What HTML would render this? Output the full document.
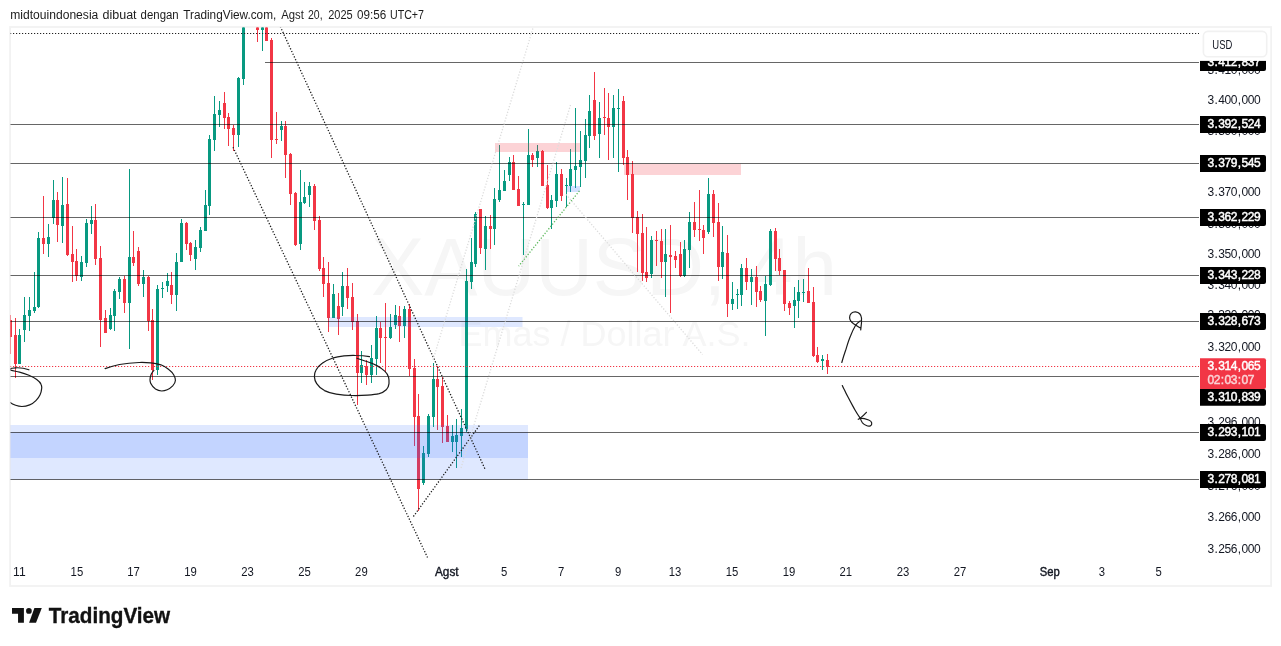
<!DOCTYPE html>
<html lang="id"><head><meta charset="utf-8"><title>XAUUSD 4h - TradingView</title>
<style>
html,body{margin:0;padding:0;background:#fff;}
body{width:1281px;height:646px;overflow:hidden;position:relative;}
svg{position:absolute;left:0;top:0;display:block;}
text{font-family:"Liberation Sans", sans-serif;}
.ax{font-size:12px;fill:#131722;}
.pl{font-size:12px;fill:#fff;stroke:#fff;stroke-width:0.45px;}
.tm{font-size:12px;fill:#131722;}
.tmb{font-size:12px;fill:#131722;stroke:#131722;stroke-width:0.4px;}
</style></head><body>
<svg width="1281" height="646" viewBox="0 0 1281 646">
<defs><clipPath id="pane"><rect x="10.5" y="27.5" width="1189" height="558"/></clipPath></defs>
<rect x="0" y="0" width="1281" height="646" fill="#fff"/>
<text y="19" style="font-size:12px;fill:#1c1c1c;"><tspan x="10.3" textLength="88.0" lengthAdjust="spacingAndGlyphs">midtouindonesia</tspan> <tspan x="102.5" textLength="34.1" lengthAdjust="spacingAndGlyphs">dibuat</tspan> <tspan x="140.6" textLength="38.1" lengthAdjust="spacingAndGlyphs">dengan</tspan> <tspan x="183.2" textLength="93.1" lengthAdjust="spacingAndGlyphs">TradingView.com,</tspan> <tspan x="281.2" textLength="22.6" lengthAdjust="spacingAndGlyphs">Agst</tspan> <tspan x="308.0" textLength="14.6" lengthAdjust="spacingAndGlyphs">20,</tspan> <tspan x="328.2" textLength="24.5" lengthAdjust="spacingAndGlyphs">2025</tspan> <tspan x="357.0" textLength="29.2" lengthAdjust="spacingAndGlyphs">09:56</tspan> <tspan x="390.0" textLength="34.0" lengthAdjust="spacingAndGlyphs">UTC+7</tspan></text>
<rect x="10.1" y="27" width="1261" height="559" fill="none" stroke="#f2f2f2" stroke-width="1.8"/>
<g fill="#f6f6f6">
<text x="371" y="294.5" style="font-size:82px;" textLength="466" lengthAdjust="spacingAndGlyphs">XAUUSD, 4h</text>
<text x="458.5" y="345.8" style="font-size:34.5px;" textLength="292" lengthAdjust="spacingAndGlyphs">Emas / Dollar A.S.</text>
</g>
<g clip-path="url(#pane)" shape-rendering="crispEdges">
<rect x="10" y="315" width="1" height="39" fill="#f23645"/>
<rect x="9" y="320" width="3" height="17" fill="#f23645"/>
<rect x="15" y="318" width="1" height="60" fill="#f23645"/>
<rect x="14" y="335" width="3" height="29" fill="#f23645"/>
<rect x="19" y="329" width="1" height="35" fill="#089981"/>
<rect x="18" y="335" width="3" height="29" fill="#089981"/>
<rect x="24" y="297" width="1" height="45" fill="#089981"/>
<rect x="23" y="315" width="3" height="15" fill="#089981"/>
<rect x="29" y="297" width="1" height="34" fill="#089981"/>
<rect x="28" y="310" width="3" height="6" fill="#089981"/>
<rect x="34" y="272" width="1" height="41" fill="#089981"/>
<rect x="33" y="307" width="3" height="4" fill="#089981"/>
<rect x="38" y="232" width="1" height="76" fill="#089981"/>
<rect x="37" y="238" width="3" height="69" fill="#089981"/>
<rect x="43" y="196" width="1" height="58" fill="#f23645"/>
<rect x="42" y="238" width="3" height="6" fill="#f23645"/>
<rect x="48" y="224" width="1" height="33" fill="#089981"/>
<rect x="47" y="237" width="3" height="7" fill="#089981"/>
<rect x="53" y="180" width="1" height="44" fill="#089981"/>
<rect x="52" y="200" width="3" height="18" fill="#089981"/>
<rect x="57" y="192" width="1" height="50" fill="#f23645"/>
<rect x="56" y="200" width="3" height="25" fill="#f23645"/>
<rect x="62" y="177" width="1" height="66" fill="#089981"/>
<rect x="61" y="205" width="3" height="21" fill="#089981"/>
<rect x="67" y="178" width="1" height="78" fill="#f23645"/>
<rect x="66" y="204" width="3" height="51" fill="#f23645"/>
<rect x="72" y="226" width="1" height="56" fill="#f23645"/>
<rect x="71" y="254" width="3" height="8" fill="#f23645"/>
<rect x="76" y="249" width="1" height="32" fill="#f23645"/>
<rect x="75" y="261" width="3" height="15" fill="#f23645"/>
<rect x="81" y="256" width="1" height="25" fill="#089981"/>
<rect x="80" y="262" width="3" height="15" fill="#089981"/>
<rect x="86" y="219" width="1" height="48" fill="#089981"/>
<rect x="85" y="223" width="3" height="40" fill="#089981"/>
<rect x="91" y="206" width="1" height="28" fill="#089981"/>
<rect x="90" y="220" width="3" height="4" fill="#089981"/>
<rect x="95" y="204" width="1" height="61" fill="#f23645"/>
<rect x="94" y="220" width="3" height="39" fill="#f23645"/>
<rect x="100" y="246" width="1" height="101" fill="#f23645"/>
<rect x="99" y="258" width="3" height="62" fill="#f23645"/>
<rect x="105" y="310" width="1" height="23" fill="#f23645"/>
<rect x="104" y="318" width="3" height="15" fill="#f23645"/>
<rect x="110" y="308" width="1" height="22" fill="#089981"/>
<rect x="109" y="315" width="3" height="14" fill="#089981"/>
<rect x="114" y="289" width="1" height="42" fill="#089981"/>
<rect x="113" y="291" width="3" height="25" fill="#089981"/>
<rect x="119" y="277" width="1" height="22" fill="#089981"/>
<rect x="118" y="279" width="3" height="13" fill="#089981"/>
<rect x="124" y="276" width="1" height="37" fill="#f23645"/>
<rect x="123" y="279" width="3" height="24" fill="#f23645"/>
<rect x="129" y="169" width="1" height="180" fill="#089981"/>
<rect x="128" y="257" width="3" height="46" fill="#089981"/>
<rect x="133" y="231" width="1" height="35" fill="#f23645"/>
<rect x="132" y="257" width="3" height="6" fill="#f23645"/>
<rect x="138" y="247" width="1" height="39" fill="#f23645"/>
<rect x="137" y="251" width="3" height="33" fill="#f23645"/>
<rect x="143" y="270" width="1" height="27" fill="#089981"/>
<rect x="142" y="277" width="3" height="7" fill="#089981"/>
<rect x="148" y="276" width="1" height="55" fill="#f23645"/>
<rect x="147" y="277" width="3" height="44" fill="#f23645"/>
<rect x="152" y="309" width="1" height="71" fill="#f23645"/>
<rect x="151" y="320" width="3" height="50" fill="#f23645"/>
<rect x="157" y="285" width="1" height="90" fill="#089981"/>
<rect x="156" y="289" width="3" height="81" fill="#089981"/>
<rect x="162" y="282" width="1" height="16" fill="#089981"/>
<rect x="161" y="288" width="3" height="1" fill="#089981"/>
<rect x="167" y="273" width="1" height="19" fill="#089981"/>
<rect x="166" y="281" width="3" height="5" fill="#089981"/>
<rect x="171" y="272" width="1" height="32" fill="#f23645"/>
<rect x="170" y="285" width="3" height="10" fill="#f23645"/>
<rect x="176" y="253" width="1" height="58" fill="#089981"/>
<rect x="175" y="262" width="3" height="33" fill="#089981"/>
<rect x="181" y="219" width="1" height="43" fill="#089981"/>
<rect x="180" y="223" width="3" height="39" fill="#089981"/>
<rect x="186" y="222" width="1" height="28" fill="#f23645"/>
<rect x="185" y="223" width="3" height="21" fill="#f23645"/>
<rect x="190" y="242" width="1" height="19" fill="#f23645"/>
<rect x="189" y="243" width="3" height="12" fill="#f23645"/>
<rect x="195" y="240" width="1" height="30" fill="#089981"/>
<rect x="194" y="247" width="3" height="12" fill="#089981"/>
<rect x="200" y="227" width="1" height="25" fill="#089981"/>
<rect x="199" y="230" width="3" height="18" fill="#089981"/>
<rect x="205" y="190" width="1" height="41" fill="#089981"/>
<rect x="204" y="205" width="3" height="26" fill="#089981"/>
<rect x="209" y="135" width="1" height="80" fill="#089981"/>
<rect x="208" y="139" width="3" height="67" fill="#089981"/>
<rect x="214" y="96" width="1" height="55" fill="#089981"/>
<rect x="213" y="114" width="3" height="26" fill="#089981"/>
<rect x="219" y="101" width="1" height="26" fill="#089981"/>
<rect x="218" y="110" width="3" height="5" fill="#089981"/>
<rect x="224" y="92" width="1" height="37" fill="#f23645"/>
<rect x="223" y="103" width="3" height="15" fill="#f23645"/>
<rect x="228" y="113" width="1" height="33" fill="#f23645"/>
<rect x="227" y="117" width="3" height="12" fill="#f23645"/>
<rect x="233" y="125" width="1" height="26" fill="#f23645"/>
<rect x="232" y="128" width="3" height="7" fill="#f23645"/>
<rect x="238" y="77" width="1" height="70" fill="#089981"/>
<rect x="237" y="78" width="3" height="57" fill="#089981"/>
<rect x="243" y="10" width="1" height="75" fill="#089981"/>
<rect x="242" y="10" width="3" height="69" fill="#089981"/>
<rect x="247" y="0" width="1" height="10" fill="#089981"/>
<rect x="246" y="5" width="3" height="5" fill="#089981"/>
<rect x="252" y="0" width="1" height="8" fill="#089981"/>
<rect x="251" y="2" width="3" height="6" fill="#089981"/>
<rect x="257" y="10" width="1" height="32" fill="#f23645"/>
<rect x="256" y="10" width="3" height="20" fill="#f23645"/>
<rect x="262" y="10" width="1" height="41" fill="#089981"/>
<rect x="261" y="10" width="3" height="20" fill="#089981"/>
<rect x="266" y="10" width="1" height="31" fill="#f23645"/>
<rect x="265" y="10" width="3" height="31" fill="#f23645"/>
<rect x="271" y="38" width="1" height="120" fill="#f23645"/>
<rect x="270" y="40" width="3" height="100" fill="#f23645"/>
<rect x="276" y="112" width="1" height="32" fill="#f23645"/>
<rect x="275" y="139" width="3" height="1" fill="#f23645"/>
<rect x="281" y="121" width="1" height="20" fill="#089981"/>
<rect x="280" y="126" width="3" height="4" fill="#089981"/>
<rect x="285" y="121" width="1" height="57" fill="#f23645"/>
<rect x="284" y="126" width="3" height="29" fill="#f23645"/>
<rect x="290" y="153" width="1" height="52" fill="#f23645"/>
<rect x="289" y="154" width="3" height="40" fill="#f23645"/>
<rect x="295" y="192" width="1" height="54" fill="#f23645"/>
<rect x="294" y="193" width="3" height="52" fill="#f23645"/>
<rect x="300" y="170" width="1" height="80" fill="#089981"/>
<rect x="299" y="202" width="3" height="42" fill="#089981"/>
<rect x="304" y="182" width="1" height="22" fill="#089981"/>
<rect x="303" y="197" width="3" height="6" fill="#089981"/>
<rect x="309" y="182" width="1" height="25" fill="#089981"/>
<rect x="308" y="186" width="3" height="9" fill="#089981"/>
<rect x="314" y="184" width="1" height="46" fill="#f23645"/>
<rect x="313" y="186" width="3" height="35" fill="#f23645"/>
<rect x="319" y="216" width="1" height="55" fill="#f23645"/>
<rect x="318" y="220" width="3" height="49" fill="#f23645"/>
<rect x="323" y="257" width="1" height="40" fill="#f23645"/>
<rect x="322" y="268" width="3" height="16" fill="#f23645"/>
<rect x="328" y="262" width="1" height="70" fill="#f23645"/>
<rect x="327" y="283" width="3" height="35" fill="#f23645"/>
<rect x="333" y="284" width="1" height="34" fill="#089981"/>
<rect x="332" y="294" width="3" height="24" fill="#089981"/>
<rect x="338" y="293" width="1" height="42" fill="#f23645"/>
<rect x="337" y="306" width="3" height="13" fill="#f23645"/>
<rect x="342" y="272" width="1" height="44" fill="#089981"/>
<rect x="341" y="286" width="3" height="21" fill="#089981"/>
<rect x="347" y="268" width="1" height="41" fill="#f23645"/>
<rect x="346" y="286" width="3" height="12" fill="#f23645"/>
<rect x="352" y="283" width="1" height="47" fill="#f23645"/>
<rect x="351" y="297" width="3" height="25" fill="#f23645"/>
<rect x="357" y="314" width="1" height="91" fill="#f23645"/>
<rect x="356" y="321" width="3" height="52" fill="#f23645"/>
<rect x="361" y="351" width="1" height="32" fill="#089981"/>
<rect x="360" y="365" width="3" height="8" fill="#089981"/>
<rect x="366" y="360" width="1" height="25" fill="#f23645"/>
<rect x="365" y="366" width="3" height="9" fill="#f23645"/>
<rect x="371" y="345" width="1" height="38" fill="#089981"/>
<rect x="370" y="358" width="3" height="17" fill="#089981"/>
<rect x="376" y="316" width="1" height="59" fill="#089981"/>
<rect x="375" y="328" width="3" height="31" fill="#089981"/>
<rect x="380" y="322" width="1" height="41" fill="#f23645"/>
<rect x="379" y="328" width="3" height="10" fill="#f23645"/>
<rect x="385" y="303" width="1" height="69" fill="#f23645"/>
<rect x="384" y="337" width="3" height="1" fill="#f23645"/>
<rect x="390" y="314" width="1" height="25" fill="#089981"/>
<rect x="389" y="327" width="3" height="11" fill="#089981"/>
<rect x="395" y="305" width="1" height="24" fill="#089981"/>
<rect x="394" y="315" width="3" height="10" fill="#089981"/>
<rect x="399" y="306" width="1" height="36" fill="#f23645"/>
<rect x="398" y="316" width="3" height="10" fill="#f23645"/>
<rect x="404" y="306" width="1" height="32" fill="#089981"/>
<rect x="403" y="309" width="3" height="17" fill="#089981"/>
<rect x="409" y="304" width="1" height="72" fill="#f23645"/>
<rect x="408" y="309" width="3" height="60" fill="#f23645"/>
<rect x="414" y="359" width="1" height="87" fill="#f23645"/>
<rect x="413" y="368" width="3" height="49" fill="#f23645"/>
<rect x="418" y="394" width="1" height="117" fill="#f23645"/>
<rect x="417" y="416" width="3" height="73" fill="#f23645"/>
<rect x="423" y="446" width="1" height="39" fill="#089981"/>
<rect x="422" y="453" width="3" height="30" fill="#089981"/>
<rect x="428" y="414" width="1" height="43" fill="#089981"/>
<rect x="427" y="416" width="3" height="38" fill="#089981"/>
<rect x="433" y="363" width="1" height="64" fill="#089981"/>
<rect x="432" y="379" width="3" height="38" fill="#089981"/>
<rect x="437" y="366" width="1" height="64" fill="#f23645"/>
<rect x="436" y="379" width="3" height="8" fill="#f23645"/>
<rect x="442" y="377" width="1" height="66" fill="#f23645"/>
<rect x="441" y="386" width="3" height="41" fill="#f23645"/>
<rect x="447" y="415" width="1" height="27" fill="#f23645"/>
<rect x="446" y="426" width="3" height="16" fill="#f23645"/>
<rect x="452" y="425" width="1" height="27" fill="#089981"/>
<rect x="451" y="436" width="3" height="6" fill="#089981"/>
<rect x="456" y="419" width="1" height="49" fill="#089981"/>
<rect x="455" y="435" width="3" height="7" fill="#089981"/>
<rect x="461" y="409" width="1" height="48" fill="#089981"/>
<rect x="460" y="428" width="3" height="8" fill="#089981"/>
<rect x="466" y="269" width="1" height="163" fill="#089981"/>
<rect x="465" y="281" width="3" height="148" fill="#089981"/>
<rect x="471" y="238" width="1" height="51" fill="#089981"/>
<rect x="470" y="262" width="3" height="20" fill="#089981"/>
<rect x="475" y="212" width="1" height="55" fill="#089981"/>
<rect x="474" y="214" width="3" height="50" fill="#089981"/>
<rect x="480" y="209" width="1" height="45" fill="#f23645"/>
<rect x="479" y="209" width="3" height="39" fill="#f23645"/>
<rect x="485" y="216" width="1" height="54" fill="#089981"/>
<rect x="484" y="226" width="3" height="23" fill="#089981"/>
<rect x="490" y="215" width="1" height="34" fill="#f23645"/>
<rect x="489" y="226" width="3" height="3" fill="#f23645"/>
<rect x="494" y="188" width="1" height="57" fill="#089981"/>
<rect x="493" y="199" width="3" height="30" fill="#089981"/>
<rect x="499" y="145" width="1" height="57" fill="#089981"/>
<rect x="498" y="190" width="3" height="10" fill="#089981"/>
<rect x="504" y="170" width="1" height="21" fill="#089981"/>
<rect x="503" y="181" width="3" height="10" fill="#089981"/>
<rect x="509" y="157" width="1" height="24" fill="#089981"/>
<rect x="508" y="162" width="3" height="13" fill="#089981"/>
<rect x="513" y="155" width="1" height="35" fill="#f23645"/>
<rect x="512" y="162" width="3" height="28" fill="#f23645"/>
<rect x="518" y="176" width="1" height="30" fill="#f23645"/>
<rect x="517" y="189" width="3" height="17" fill="#f23645"/>
<rect x="523" y="202" width="1" height="53" fill="#089981"/>
<rect x="522" y="204" width="3" height="1" fill="#089981"/>
<rect x="528" y="129" width="1" height="76" fill="#089981"/>
<rect x="527" y="155" width="3" height="50" fill="#089981"/>
<rect x="532" y="153" width="1" height="14" fill="#f23645"/>
<rect x="531" y="155" width="3" height="5" fill="#f23645"/>
<rect x="537" y="145" width="1" height="22" fill="#089981"/>
<rect x="536" y="151" width="3" height="7" fill="#089981"/>
<rect x="542" y="150" width="1" height="36" fill="#f23645"/>
<rect x="541" y="151" width="3" height="35" fill="#f23645"/>
<rect x="547" y="165" width="1" height="44" fill="#f23645"/>
<rect x="546" y="185" width="3" height="23" fill="#f23645"/>
<rect x="551" y="195" width="1" height="34" fill="#089981"/>
<rect x="550" y="200" width="3" height="8" fill="#089981"/>
<rect x="556" y="162" width="1" height="45" fill="#089981"/>
<rect x="555" y="174" width="3" height="27" fill="#089981"/>
<rect x="561" y="169" width="1" height="32" fill="#f23645"/>
<rect x="560" y="174" width="3" height="22" fill="#f23645"/>
<rect x="566" y="178" width="1" height="29" fill="#089981"/>
<rect x="565" y="185" width="3" height="1" fill="#089981"/>
<rect x="570" y="149" width="1" height="43" fill="#089981"/>
<rect x="569" y="169" width="3" height="17" fill="#089981"/>
<rect x="575" y="108" width="1" height="80" fill="#089981"/>
<rect x="574" y="166" width="3" height="4" fill="#089981"/>
<rect x="580" y="131" width="1" height="56" fill="#089981"/>
<rect x="579" y="160" width="3" height="7" fill="#089981"/>
<rect x="585" y="119" width="1" height="59" fill="#089981"/>
<rect x="584" y="135" width="3" height="26" fill="#089981"/>
<rect x="589" y="95" width="1" height="53" fill="#089981"/>
<rect x="588" y="111" width="3" height="25" fill="#089981"/>
<rect x="594" y="72" width="1" height="68" fill="#f23645"/>
<rect x="593" y="100" width="3" height="36" fill="#f23645"/>
<rect x="599" y="102" width="1" height="56" fill="#089981"/>
<rect x="598" y="118" width="3" height="16" fill="#089981"/>
<rect x="604" y="88" width="1" height="47" fill="#f23645"/>
<rect x="603" y="117" width="3" height="1" fill="#f23645"/>
<rect x="608" y="93" width="1" height="67" fill="#f23645"/>
<rect x="607" y="118" width="3" height="9" fill="#f23645"/>
<rect x="613" y="95" width="1" height="63" fill="#089981"/>
<rect x="612" y="108" width="3" height="19" fill="#089981"/>
<rect x="618" y="89" width="1" height="83" fill="#089981"/>
<rect x="617" y="108" width="3" height="1" fill="#089981"/>
<rect x="623" y="96" width="1" height="69" fill="#f23645"/>
<rect x="622" y="101" width="3" height="57" fill="#f23645"/>
<rect x="627" y="150" width="1" height="50" fill="#f23645"/>
<rect x="626" y="157" width="3" height="18" fill="#f23645"/>
<rect x="632" y="161" width="1" height="72" fill="#f23645"/>
<rect x="631" y="174" width="3" height="44" fill="#f23645"/>
<rect x="637" y="211" width="1" height="61" fill="#f23645"/>
<rect x="636" y="217" width="3" height="17" fill="#f23645"/>
<rect x="642" y="214" width="1" height="67" fill="#f23645"/>
<rect x="641" y="233" width="3" height="40" fill="#f23645"/>
<rect x="646" y="227" width="1" height="55" fill="#f23645"/>
<rect x="645" y="272" width="3" height="6" fill="#f23645"/>
<rect x="651" y="236" width="1" height="42" fill="#089981"/>
<rect x="650" y="240" width="3" height="34" fill="#089981"/>
<rect x="656" y="231" width="1" height="35" fill="#f23645"/>
<rect x="655" y="240" width="3" height="1" fill="#f23645"/>
<rect x="661" y="229" width="1" height="49" fill="#f23645"/>
<rect x="660" y="241" width="3" height="21" fill="#f23645"/>
<rect x="665" y="229" width="1" height="68" fill="#089981"/>
<rect x="664" y="254" width="3" height="8" fill="#089981"/>
<rect x="670" y="225" width="1" height="88" fill="#f23645"/>
<rect x="669" y="255" width="3" height="2" fill="#f23645"/>
<rect x="675" y="251" width="1" height="17" fill="#f23645"/>
<rect x="674" y="256" width="3" height="4" fill="#f23645"/>
<rect x="680" y="242" width="1" height="35" fill="#f23645"/>
<rect x="679" y="254" width="3" height="22" fill="#f23645"/>
<rect x="684" y="240" width="1" height="37" fill="#089981"/>
<rect x="683" y="249" width="3" height="27" fill="#089981"/>
<rect x="689" y="212" width="1" height="56" fill="#089981"/>
<rect x="688" y="222" width="3" height="28" fill="#089981"/>
<rect x="694" y="202" width="1" height="35" fill="#f23645"/>
<rect x="693" y="222" width="3" height="8" fill="#f23645"/>
<rect x="699" y="190" width="1" height="51" fill="#f23645"/>
<rect x="698" y="229" width="3" height="1" fill="#f23645"/>
<rect x="703" y="225" width="1" height="29" fill="#f23645"/>
<rect x="702" y="230" width="3" height="8" fill="#f23645"/>
<rect x="708" y="178" width="1" height="56" fill="#089981"/>
<rect x="707" y="194" width="3" height="38" fill="#089981"/>
<rect x="713" y="190" width="1" height="47" fill="#f23645"/>
<rect x="712" y="194" width="3" height="29" fill="#f23645"/>
<rect x="718" y="203" width="1" height="78" fill="#f23645"/>
<rect x="717" y="222" width="3" height="45" fill="#f23645"/>
<rect x="722" y="226" width="1" height="53" fill="#089981"/>
<rect x="721" y="252" width="3" height="15" fill="#089981"/>
<rect x="727" y="235" width="1" height="82" fill="#f23645"/>
<rect x="726" y="253" width="3" height="51" fill="#f23645"/>
<rect x="732" y="282" width="1" height="28" fill="#089981"/>
<rect x="731" y="299" width="3" height="5" fill="#089981"/>
<rect x="737" y="289" width="1" height="20" fill="#089981"/>
<rect x="736" y="294" width="3" height="1" fill="#089981"/>
<rect x="741" y="264" width="1" height="42" fill="#089981"/>
<rect x="740" y="268" width="3" height="27" fill="#089981"/>
<rect x="746" y="258" width="1" height="32" fill="#f23645"/>
<rect x="745" y="268" width="3" height="14" fill="#f23645"/>
<rect x="751" y="269" width="1" height="36" fill="#089981"/>
<rect x="750" y="277" width="3" height="5" fill="#089981"/>
<rect x="756" y="266" width="1" height="41" fill="#f23645"/>
<rect x="755" y="277" width="3" height="15" fill="#f23645"/>
<rect x="760" y="286" width="1" height="16" fill="#f23645"/>
<rect x="759" y="291" width="3" height="9" fill="#f23645"/>
<rect x="765" y="276" width="1" height="60" fill="#089981"/>
<rect x="764" y="284" width="3" height="17" fill="#089981"/>
<rect x="770" y="229" width="1" height="57" fill="#089981"/>
<rect x="769" y="231" width="3" height="54" fill="#089981"/>
<rect x="775" y="228" width="1" height="43" fill="#f23645"/>
<rect x="774" y="231" width="3" height="28" fill="#f23645"/>
<rect x="779" y="249" width="1" height="26" fill="#f23645"/>
<rect x="778" y="258" width="3" height="13" fill="#f23645"/>
<rect x="784" y="270" width="1" height="41" fill="#f23645"/>
<rect x="783" y="270" width="3" height="34" fill="#f23645"/>
<rect x="789" y="301" width="1" height="14" fill="#f23645"/>
<rect x="788" y="303" width="3" height="5" fill="#f23645"/>
<rect x="794" y="287" width="1" height="41" fill="#089981"/>
<rect x="793" y="300" width="3" height="6" fill="#089981"/>
<rect x="798" y="280" width="1" height="38" fill="#089981"/>
<rect x="797" y="292" width="3" height="9" fill="#089981"/>
<rect x="803" y="279" width="1" height="23" fill="#089981"/>
<rect x="802" y="292" width="3" height="1" fill="#089981"/>
<rect x="808" y="268" width="1" height="35" fill="#f23645"/>
<rect x="807" y="291" width="3" height="12" fill="#f23645"/>
<rect x="813" y="287" width="1" height="70" fill="#f23645"/>
<rect x="812" y="302" width="3" height="54" fill="#f23645"/>
<rect x="817" y="347" width="1" height="16" fill="#f23645"/>
<rect x="816" y="355" width="3" height="7" fill="#f23645"/>
<rect x="822" y="355" width="1" height="15" fill="#089981"/>
<rect x="821" y="359" width="3" height="2" fill="#089981"/>
<rect x="827" y="354" width="1" height="20" fill="#f23645"/>
<rect x="826" y="360" width="3" height="7" fill="#f23645"/>
</g>
<g clip-path="url(#pane)">
<rect x="10" y="425" width="518" height="54.5" fill="rgba(41,98,255,0.15)"/>
<rect x="10" y="432.5" width="518" height="25.5" fill="rgba(41,98,255,0.15)"/>
<rect x="328.5" y="317" width="194" height="10" fill="rgba(41,98,255,0.15)"/>
<rect x="567" y="186" width="13" height="6" fill="rgba(41,98,255,0.2)"/>
<rect x="495" y="143" width="85" height="9" fill="rgba(242,54,69,0.22)"/>
<rect x="624" y="164" width="117" height="11" fill="rgba(242,54,69,0.22)"/>
<rect x="265" y="62" width="934" height="1" fill="rgba(0,0,0,0.6)" shape-rendering="crispEdges"/>
<rect x="10" y="124" width="1189" height="1" fill="rgba(0,0,0,0.6)" shape-rendering="crispEdges"/>
<rect x="10" y="163" width="1189" height="1" fill="rgba(0,0,0,0.6)" shape-rendering="crispEdges"/>
<rect x="10" y="217" width="1189" height="1" fill="rgba(0,0,0,0.6)" shape-rendering="crispEdges"/>
<rect x="10" y="275" width="1189" height="1" fill="rgba(0,0,0,0.6)" shape-rendering="crispEdges"/>
<rect x="10" y="321" width="1189" height="1" fill="rgba(0,0,0,0.6)" shape-rendering="crispEdges"/>
<rect x="10" y="376" width="1189" height="1" fill="rgba(0,0,0,0.6)" shape-rendering="crispEdges"/>
<rect x="10" y="432" width="1189" height="1" fill="rgba(0,0,0,0.6)" shape-rendering="crispEdges"/>
<rect x="10" y="479" width="1189" height="1" fill="rgba(0,0,0,0.6)" shape-rendering="crispEdges"/>
<line x1="10" y1="33.5" x2="1199" y2="33.5" stroke="#222" stroke-width="1.2" stroke-dasharray="1.2 1.8"/>
<line x1="233.0" y1="147.2" x2="427.5" y2="557.5" stroke="#1a1a1a" stroke-width="1.3" stroke-dasharray="1.25 1.75"/>
<line x1="277.7" y1="21.0" x2="484.9" y2="468.8" stroke="#1a1a1a" stroke-width="1.3" stroke-dasharray="1.25 1.75"/>
<line x1="413.4" y1="516.5" x2="479.5" y2="425.4" stroke="#1a1a1a" stroke-width="1.3" stroke-dasharray="1.25 1.75"/>
<line x1="579.4" y1="190.9" x2="518.6" y2="266.2" stroke="#5cb85c" stroke-width="1.3" stroke-dasharray="1.25 1.75"/>
<line x1="433.0" y1="360.0" x2="533.0" y2="28.0" stroke="#dcdcdc" stroke-width="1.3" stroke-dasharray="1.25 1.75"/>
<line x1="461.0" y1="468.0" x2="570.5" y2="105.0" stroke="#dcdcdc" stroke-width="1.3" stroke-dasharray="1.25 1.75"/>
<line x1="566.0" y1="194.4" x2="702.5" y2="354.5" stroke="#dcdcdc" stroke-width="1.3" stroke-dasharray="1.25 1.75"/>
<line x1="10" y1="366.5" x2="1199" y2="366.5" stroke="#f23645" stroke-width="1.2" stroke-dasharray="1.2 1.8"/>
<g fill="none" stroke="#1a1a1a" stroke-width="1.2" stroke-linecap="round" stroke-linejoin="round">
<path d="M28.9 369.8 C25 368.4 19 367.6 15.6 367.8 C13 368 11 368.3 10.5 368.6 L10.5 370.2 C14 371 17 371.5 19.5 372.1 C23 373 26 374 28.9 375.2 C32 376.5 35 378.2 36.7 379.5 C39 381.2 40.5 382.8 41 384.2 C41.8 386 41.9 387.5 41.6 388.9 C41.4 391 41 393 40.2 394.4 C39 397 37.5 399 35.9 400.6 C34 402.5 32 404 29.7 404.9 C27 406 24.5 406.5 21.9 406.5 C19.5 406.5 17.5 406 15.6 405.3 C13.5 404.5 11.5 403.5 10.5 402.6"/>
<path d="M105.1 368.6 C110 367 114.5 365.7 119.5 364.5 C126 363.3 132.5 362.7 139.1 362.5 C143 362.4 147 362.5 150.8 362.9 C154.5 363.3 158 364 160.9 364.8 C164 366 166.5 367.6 168.8 369.5 C171 371.2 172.7 373 173.8 375 C174.8 376.8 175.5 378.7 175.4 380.5 C175.3 382.5 174.2 384.3 172.7 385.9 C171 387.6 169.2 389 167.2 389.8 C165.4 390.6 163.5 391 161.7 391 C159.5 390.9 157.3 390.2 155.5 389 C153.5 387.6 151.8 385.7 150.8 383.6 C150.3 382.3 150 381 150 379.7 C150 377.8 150.5 375.9 151.2 374.2 C151.9 372.7 152.8 371.4 153.9 370.3"/>
<path d="M369.5 356.6 C365 355.8 360.5 355.5 355.8 355.5 C351.8 355.4 348 355.5 344 355.9 C340 356.4 336 357.1 332.3 358.2 C328.6 359.4 325 361 322.2 363.3 C319.4 365.3 317.2 367.6 315.9 370.3 C314.8 372.3 314.3 374.5 314.4 376.6 C314.5 379 315.3 381.5 316.7 383.6 C318.5 386.4 321.3 388.8 324.5 390.6 C328 392.4 332 393.4 336.2 394.1 C341.3 394.9 346.6 395.4 351.9 395.5 C357.1 395.6 362.3 395.5 367.5 395.2 C371.5 394.9 375.4 394.6 379.2 393.7 C381.8 393 384.3 391.6 386.2 389.8 C387.8 388.1 388.8 385.9 389 383.6 C389.2 381.5 389.1 379.4 388.6 377.3 C388 375 386.7 372.9 384.7 371.1 C382.4 369 379.8 367.1 376.9 365.6 C373.9 364.1 370.7 362.8 367.5 361.7 C364 360.5 360.5 359.3 357 358.2"/>
<path d="M841.8 362.5 C843 358 844.3 354 845.7 350 C847 346 848.5 340.5 850.5 336 C852 332 853.8 328.3 855.6 325.2 C857 323.4 858.5 322 860.2 320.9"/>
<path d="M860.7 329.8 C861.3 326 861.8 322 861.5 318 C861.2 315 859.5 312.3 855.5 311.8 C852 311.6 849.6 314.2 849.6 317.5 C849.6 320 851.5 322.2 853.6 323.7 C856 325.3 858.5 327 860.8 328.3"/>
<path d="M842.3 385.5 C843 387.2 843.7 388.6 844.5 390 C845.7 392.8 847 395.3 848.4 397.8 C850.4 401.7 852.6 405.6 854.7 409.5 C856.4 412.5 858.3 415.5 860.2 418.1"/>
<path d="M866.4 412.3 C864.5 414.4 862.4 416.4 860.2 418.1"/>
<path d="M858.2 419.3 C859 418.8 859.7 418.4 860.2 418.1 C863.2 418.3 866 419 868.7 420 C870.3 420.7 871.5 421.7 871.7 422.8 C872 424.2 871.5 425.2 870.3 425.9 C869 426.4 867.7 426.2 866.4 425.5 C864.7 424.8 863.5 424 862.5 422.8 C861.5 421.5 860.8 419.8 860.2 418.1"/>
</g>
</g>
<text class="ax" x="1207.51 1214.52 1218.20 1224.49 1230.78 1237.79 1241.47 1247.76 1254.05" y="74.4">3.410,000</text>
<text class="ax" x="1207.51 1214.52 1218.20 1224.49 1230.78 1237.79 1241.47 1247.76 1254.05" y="104.4">3.400,000</text>
<text class="ax" x="1207.51 1214.52 1218.20 1224.49 1230.78 1237.79 1241.47 1247.76 1254.05" y="135.4">3.390,000</text>
<text class="ax" x="1207.51 1214.52 1218.20 1224.49 1230.78 1237.79 1241.47 1247.76 1254.05" y="196.2">3.370,000</text>
<text class="ax" x="1207.51 1214.52 1218.20 1224.49 1230.78 1237.79 1241.47 1247.76 1254.05" y="228.1">3.360,000</text>
<text class="ax" x="1207.51 1214.52 1218.20 1224.49 1230.78 1237.79 1241.47 1247.76 1254.05" y="258.2">3.350,000</text>
<text class="ax" x="1207.51 1214.52 1218.20 1224.49 1230.78 1237.79 1241.47 1247.76 1254.05" y="289.4">3.340,000</text>
<text class="ax" x="1207.51 1214.52 1218.20 1224.49 1230.78 1237.79 1241.47 1247.76 1254.05" y="319.4">3.330,000</text>
<text class="ax" x="1207.51 1214.52 1218.20 1224.49 1230.78 1237.79 1241.47 1247.76 1254.05" y="350.8">3.320,000</text>
<text class="ax" x="1207.51 1214.52 1218.20 1224.49 1230.78 1237.79 1241.47 1247.76 1254.05" y="426.4">3.296,000</text>
<text class="ax" x="1207.51 1214.52 1218.20 1224.49 1230.78 1237.79 1241.47 1247.76 1254.05" y="458.2">3.286,000</text>
<text class="ax" x="1207.51 1214.52 1218.20 1224.49 1230.78 1237.79 1241.47 1247.76 1254.05" y="489.9">3.276,000</text>
<text class="ax" x="1207.51 1214.52 1218.20 1224.49 1230.78 1237.79 1241.47 1247.76 1254.05" y="521.1">3.266,000</text>
<text class="ax" x="1207.51 1214.52 1218.20 1224.49 1230.78 1237.79 1241.47 1247.76 1254.05" y="553.0">3.256,000</text>
<path d="M1200 54 H1264 Q1266 54 1266 56 V69 Q1266 71 1264 71 H1200 Z" fill="#000"/>
<text class="pl" x="1207.51 1214.52 1218.20 1224.49 1230.78 1237.79 1241.47 1247.76 1254.05" y="65.9" >3.412,837</text>
<path d="M1200 116 H1264 Q1266 116 1266 118 V131 Q1266 133 1264 133 H1200 Z" fill="#000"/>
<text class="pl" x="1207.51 1214.52 1218.20 1224.49 1230.78 1237.79 1241.47 1247.76 1254.05" y="127.9" >3.392,524</text>
<path d="M1200 155 H1264 Q1266 155 1266 157 V170 Q1266 172 1264 172 H1200 Z" fill="#000"/>
<text class="pl" x="1207.51 1214.52 1218.20 1224.49 1230.78 1237.79 1241.47 1247.76 1254.05" y="166.9" >3.379,545</text>
<path d="M1200 209 H1264 Q1266 209 1266 211 V224 Q1266 226 1264 226 H1200 Z" fill="#000"/>
<text class="pl" x="1207.51 1214.52 1218.20 1224.49 1230.78 1237.79 1241.47 1247.76 1254.05" y="220.9" >3.362,229</text>
<path d="M1200 267 H1264 Q1266 267 1266 269 V282 Q1266 284 1264 284 H1200 Z" fill="#000"/>
<text class="pl" x="1207.51 1214.52 1218.20 1224.49 1230.78 1237.79 1241.47 1247.76 1254.05" y="278.9" >3.343,228</text>
<path d="M1200 313 H1264 Q1266 313 1266 315 V328 Q1266 330 1264 330 H1200 Z" fill="#000"/>
<text class="pl" x="1207.51 1214.52 1218.20 1224.49 1230.78 1237.79 1241.47 1247.76 1254.05" y="324.9" >3.328,673</text>
<path d="M1200 424 H1264 Q1266 424 1266 426 V439 Q1266 441 1264 441 H1200 Z" fill="#000"/>
<text class="pl" x="1207.51 1214.52 1218.20 1224.49 1230.78 1237.79 1241.47 1247.76 1254.05" y="435.9" >3.293,101</text>
<path d="M1200 471 H1264 Q1266 471 1266 473 V486 Q1266 488 1264 488 H1200 Z" fill="#000"/>
<text class="pl" x="1207.51 1214.52 1218.20 1224.49 1230.78 1237.79 1241.47 1247.76 1254.05" y="482.9" >3.278,081</text>
<path d="M1200 358.2 H1264 Q1266 358.2 1266 360.2 V387.0 Q1266 389.0 1264 389.0 H1200 Z" fill="#f23645"/>
<text class="pl" x="1207.51 1214.52 1218.20 1224.49 1230.78 1237.79 1241.47 1247.76 1254.05" y="370.0" >3.314,065</text>
<text class="pl" x="1207.51 1213.80 1220.81 1224.49 1230.78 1237.79 1241.47 1247.76" y="383.7" style="fill:#fbd3d6;stroke:#fbd3d6">02:03:07</text>
<path d="M1200 389 H1264 Q1266 389 1266 391 V403.8 Q1266 405.8 1264 405.8 H1200 Z" fill="#000"/>
<text class="pl" x="1207.51 1214.52 1218.20 1224.49 1230.78 1237.79 1241.47 1247.76 1254.05" y="401.0" >3.310,839</text>
<rect x="1199.5" y="28" width="70.6" height="32.9" fill="#fff"/>
<rect x="1203.4" y="31.4" width="63.3" height="25.3" rx="4.5" fill="#fff" stroke="#f1f1f1" stroke-width="1.6"/>
<text class="ax" x="1212.3" y="49" textLength="20" lengthAdjust="spacingAndGlyphs">USD</text>
<text class="tm" x="13.1" y="575.9" textLength="12.58" lengthAdjust="spacingAndGlyphs">11</text>
<text class="tm" x="70.6" y="575.9" textLength="12.58" lengthAdjust="spacingAndGlyphs">15</text>
<text class="tm" x="127.3" y="575.9" textLength="12.58" lengthAdjust="spacingAndGlyphs">17</text>
<text class="tm" x="184.3" y="575.9" textLength="12.58" lengthAdjust="spacingAndGlyphs">19</text>
<text class="tm" x="241.3" y="575.9" textLength="12.58" lengthAdjust="spacingAndGlyphs">23</text>
<text class="tm" x="298.3" y="575.9" textLength="12.58" lengthAdjust="spacingAndGlyphs">25</text>
<text class="tm" x="355.1" y="575.9" textLength="12.58" lengthAdjust="spacingAndGlyphs">29</text>
<text class="tmb" x="435.0" y="575.9" textLength="23.6" lengthAdjust="spacingAndGlyphs">Agst</text>
<text class="tm" x="500.9" y="575.9" textLength="6.29" lengthAdjust="spacingAndGlyphs">5</text>
<text class="tm" x="557.9" y="575.9" textLength="6.29" lengthAdjust="spacingAndGlyphs">7</text>
<text class="tm" x="615.1" y="575.9" textLength="6.29" lengthAdjust="spacingAndGlyphs">9</text>
<text class="tm" x="668.7" y="575.9" textLength="12.58" lengthAdjust="spacingAndGlyphs">13</text>
<text class="tm" x="725.7" y="575.9" textLength="12.58" lengthAdjust="spacingAndGlyphs">15</text>
<text class="tm" x="782.7" y="575.9" textLength="12.58" lengthAdjust="spacingAndGlyphs">19</text>
<text class="tm" x="839.5" y="575.9" textLength="12.58" lengthAdjust="spacingAndGlyphs">21</text>
<text class="tm" x="896.7" y="575.9" textLength="12.58" lengthAdjust="spacingAndGlyphs">23</text>
<text class="tm" x="953.7" y="575.9" textLength="12.58" lengthAdjust="spacingAndGlyphs">27</text>
<text class="tmb" x="1039.8" y="575.9" textLength="20.0" lengthAdjust="spacingAndGlyphs">Sep</text>
<text class="tm" x="1098.7" y="575.9" textLength="6.29" lengthAdjust="spacingAndGlyphs">3</text>
<text class="tm" x="1155.6" y="575.9" textLength="6.29" lengthAdjust="spacingAndGlyphs">5</text>
<g fill="#121212">
<path d="M12 608 H23.9 V622.7 H18.05 V613.7 H12 Z"/>
<circle cx="28.9" cy="610.9" r="2.85"/>
<path d="M34.4 608 H41.8 L36 622.7 H29.1 Z"/>
<text x="48.8" y="622.7" style="font-size:22.2px;font-weight:bold;fill:#121212;stroke:#121212;stroke-width:0.35px;" textLength="121.4" lengthAdjust="spacingAndGlyphs">TradingView</text>
</g>
</svg>
</body></html>
